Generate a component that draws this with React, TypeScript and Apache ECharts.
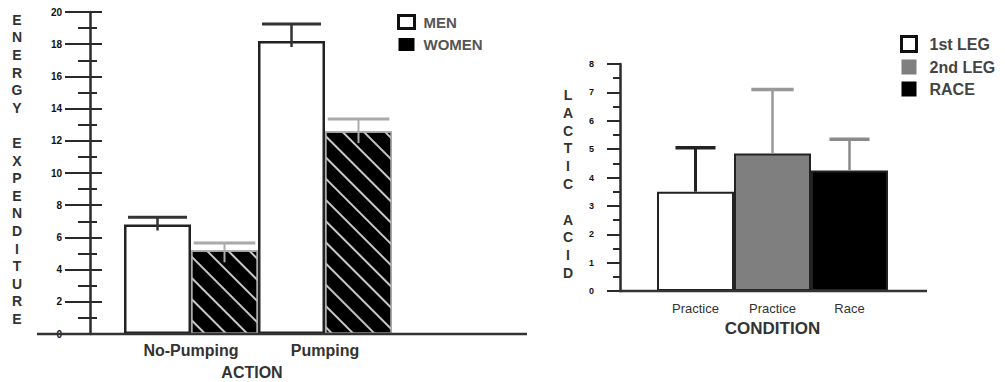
import React, { useEffect, useRef } from "react";
import * as echarts from "echarts";

// ---- Left chart data ----
const actionCategories = ["No-Pumping", "Pumping"];
const menValues = [6.8, 18.2];
const menErrors = [0.45, 1.05];
const womenValues = [5.2, 12.6];
const womenErrors = [0.45, 0.75];
const energyTicks = { min: 0, max: 20, interval: 2 };

// ---- Right chart data ----
const conditionCategories = ["Practice", "Practice", "Race"];
const firstLegValues = [3.5, null, null];
const firstLegErrors = [1.55, null, null];
const secondLegValues = [null, 4.85, null];
const secondLegErrors = [null, 2.25, null];
const raceValues = [null, null, 4.25];
const raceErrors = [null, null, 1.1];
const lacticTicks = { min: 0, max: 8, interval: 1 };

const FONT = "Liberation Sans, Arial, sans-serif";

function errData(values: (number | null)[], errors: (number | null)[]) {
  const out: any[] = [];
  values.forEach((v, i) => {
    if (v != null && errors[i] != null) out.push([i, v, errors[i]]);
  });
  return out;
}

function makeErrRender(offsetFrac: number, capFrac: number, stroke: string, stemW: number, capW: number, ext: number) {
  return (params: any, api: any) => {
    const c = api.value(0);
    const v = api.value(1);
    const e = api.value(2);
    const bw = api.size([1, 0])[0];
    const x = api.coord([c, v])[0] + offsetFrac * bw;
    const yBar = api.coord([c, v])[1];
    const yTop = api.coord([c, v + e])[1];
    const half = (capFrac * bw) / 2;
    return {
      type: "group",
      children: [
        { type: "line", shape: { x1: x, y1: yBar + ext, x2: x, y2: yTop }, style: { stroke, lineWidth: stemW } },
        { type: "line", shape: { x1: x - half, y1: yTop, x2: x + half, y2: yTop }, style: { stroke, lineWidth: capW } },
      ],
    };
  };
}

function toSeriesData(arr: (number | null)[]) {
  return arr.map((v) => (v == null ? "-" : v));
}

export default function App() {
  const ref = useRef<HTMLDivElement>(null);
  useEffect(() => {
    if (!ref.current) return;
    const chart = echarts.init(ref.current, null, { renderer: "svg" });
    const axisColor = "#2a2a2a";
    const invisibleDecal = { color: "rgba(0,0,0,0)", symbol: "rect", dashArrayX: [1, 0], dashArrayY: [2, 13] };
    const option: any = {
      animation: false,
      backgroundColor: "#fff",
      textStyle: { fontFamily: FONT },
      grid: [
        { left: 124, width: 268, top: 12, height: 322 },
        { left: 657, width: 231, top: 64, height: 227 },
      ],
      xAxis: [
        {
          type: "category",
          gridIndex: 0,
          data: actionCategories,
          axisLine: { show: false },
          axisTick: { show: false },
          axisLabel: { margin: 8, fontSize: 16, fontWeight: "bold", color: "#333", fontFamily: FONT },
        },
        {
          type: "category",
          gridIndex: 1,
          data: conditionCategories,
          axisLine: { show: false },
          axisTick: { show: false },
          axisLabel: { margin: 11, fontSize: 13, color: "#333", fontFamily: FONT },
          name: "CONDITION",
          nameLocation: "middle",
          nameGap: 29,
          nameTextStyle: { fontSize: 17, fontWeight: "bold", color: "#333", fontFamily: FONT },
        },
      ],
      yAxis: [
        {
          type: "value",
          gridIndex: 0,
          position: "left",
          offset: 34,
          min: energyTicks.min,
          max: energyTicks.max,
          interval: energyTicks.interval,
          splitLine: { show: false },
          axisLine: { show: true, lineStyle: { color: axisColor, width: 2.5 } },
          axisTick: { show: true, length: 25, lineStyle: { color: axisColor, width: 2 } },
          minorTick: { show: true, splitNumber: 2, length: 12, lineStyle: { color: axisColor, width: 2 } },
          axisLabel: { margin: 28, fontSize: 10, fontWeight: "bold", color: "#111", fontFamily: FONT },
        },
        {
          type: "value",
          gridIndex: 0,
          position: "left",
          offset: 34,
          min: energyTicks.min,
          max: energyTicks.max,
          interval: energyTicks.interval,
          splitLine: { show: false },
          axisLine: { show: false },
          axisTick: { show: true, inside: true, length: 12, lineStyle: { color: axisColor, width: 2 } },
          minorTick: { show: true, splitNumber: 2, length: 7, lineStyle: { color: axisColor, width: 2 } },
          axisLabel: { show: false },
        },
        {
          type: "value",
          gridIndex: 1,
          position: "left",
          offset: 37,
          min: lacticTicks.min,
          max: lacticTicks.max,
          interval: lacticTicks.interval,
          splitLine: { show: false },
          axisLine: { show: true, lineStyle: { color: axisColor, width: 2.5 } },
          axisTick: { show: true, length: 13, lineStyle: { color: axisColor, width: 2 } },
          minorTick: { show: true, splitNumber: 2, length: 7, lineStyle: { color: axisColor, width: 2 } },
          axisLabel: { margin: 26, fontSize: 9, fontWeight: "bold", color: "#111", fontFamily: FONT },
        },
      ],
      legend: [
        {
          left: 392,
          top: 9,
          orient: "vertical",
          itemWidth: 16,
          itemHeight: 13,
          itemGap: 7,
          icon: "rect",
          textStyle: { fontSize: 15, fontWeight: "bold", color: "#555", fontFamily: FONT, padding: [0, 0, 0, 4] },
          itemStyle: { decal: invisibleDecal },
          data: [
            { name: "MEN", itemStyle: { borderWidth: 3, borderColor: "#111", color: "#fff", decal: invisibleDecal } },
            { name: "WOMEN", itemStyle: { borderWidth: 0, color: "#000", decal: invisibleDecal } },
          ],
        },
        {
          left: 895,
          top: 30,
          orient: "vertical",
          itemWidth: 15,
          itemHeight: 15,
          itemGap: 6,
          icon: "rect",
          textStyle: { fontSize: 16, fontWeight: "bold", color: "#444", fontFamily: FONT, padding: [0, 0, 0, 8] },
          data: [
            { name: "1st LEG", itemStyle: { borderWidth: 3, borderColor: "#111", color: "#fff" } },
            { name: "2nd LEG", itemStyle: { borderWidth: 0 } },
            { name: "RACE", itemStyle: { borderWidth: 0 } },
          ],
        },
      ],
      series: [
        {
          name: "MEN",
          type: "bar",
          xAxisIndex: 0,
          yAxisIndex: 0,
          data: menValues,
          barGap: "0%",
          barCategoryGap: "0%",
          itemStyle: { color: "#fff", borderColor: "#222", borderWidth: 2.5 },
        },
        {
          name: "WOMEN",
          type: "bar",
          xAxisIndex: 0,
          yAxisIndex: 0,
          data: womenValues,
          barGap: "0%",
          barCategoryGap: "0%",
          itemStyle: {
            color: "#000",
            borderColor: "#aaa",
            borderWidth: 1.5,
            decal: {
              symbol: "rect",
              color: "rgba(210,210,210,0.95)",
              dashArrayX: [1, 0],
              dashArrayY: [2, 13],
              rotation: Math.PI / 4,
            },
          },
        },
        {
          type: "custom",
          xAxisIndex: 0,
          yAxisIndex: 0,
          data: errData(menValues, menErrors),
          encode: { x: 0, y: 1 },
          renderItem: makeErrRender(-0.25, 0.44, "#333", 2.5, 3, 6),
          z: 5,
        },
        {
          type: "custom",
          xAxisIndex: 0,
          yAxisIndex: 0,
          data: errData(womenValues, womenErrors),
          encode: { x: 0, y: 1 },
          renderItem: makeErrRender(0.25, 0.46, "#aaa", 2, 3, 12),
          z: 5,
        },
        {
          name: "1st LEG",
          type: "bar",
          xAxisIndex: 1,
          yAxisIndex: 2,
          stack: "cond",
          data: toSeriesData(firstLegValues),
          barCategoryGap: "0%",
          itemStyle: { color: "#fff", borderColor: "#222", borderWidth: 2 },
        },
        {
          name: "2nd LEG",
          type: "bar",
          xAxisIndex: 1,
          yAxisIndex: 2,
          stack: "cond",
          data: toSeriesData(secondLegValues),
          barCategoryGap: "0%",
          itemStyle: { color: "#7f7f7f", borderColor: "#222", borderWidth: 2 },
        },
        {
          name: "RACE",
          type: "bar",
          xAxisIndex: 1,
          yAxisIndex: 2,
          stack: "cond",
          data: toSeriesData(raceValues),
          barCategoryGap: "0%",
          itemStyle: { color: "#000", borderColor: "#222", borderWidth: 2 },
        },
        {
          type: "custom",
          xAxisIndex: 1,
          yAxisIndex: 2,
          data: errData(firstLegValues, firstLegErrors),
          encode: { x: 0, y: 1 },
          renderItem: makeErrRender(0, 0.52, "#222", 3, 3.5, 0),
          z: 5,
        },
        {
          type: "custom",
          xAxisIndex: 1,
          yAxisIndex: 2,
          data: errData(secondLegValues, secondLegErrors),
          encode: { x: 0, y: 1 },
          renderItem: makeErrRender(0, 0.55, "#999", 2.5, 3.5, 0),
          z: 5,
        },
        {
          type: "custom",
          xAxisIndex: 1,
          yAxisIndex: 2,
          data: errData(raceValues, raceErrors),
          encode: { x: 0, y: 1 },
          renderItem: makeErrRender(0, 0.52, "#8a8a8a", 2.5, 3.5, 0),
          z: 5,
        },
      ],
      graphic: [
        { type: "line", shape: { x1: 37, y1: 334, x2: 527, y2: 334 }, style: { stroke: "#333", lineWidth: 2.5 }, z: 10 },
        { type: "line", shape: { x1: 619, y1: 291, x2: 927, y2: 291 }, style: { stroke: "#333", lineWidth: 2.5 }, z: 10 },
        {
          type: "text",
          x: 17,
          y: 11,
          style: {
            text: "E\nN\nE\nR\nG\nY\n\nE\nX\nP\nE\nN\nD\nI\nT\nU\nR\nE",
            fontSize: 14,
            fontWeight: "bold",
            fontFamily: FONT,
            lineHeight: 17.6,
            align: "center",
            fill: "#333",
          },
        },
        {
          type: "text",
          x: 568,
          y: 86,
          style: {
            text: "L\nA\nC\nT\nI\nC\n\nA\nC\nI\nD",
            fontSize: 14,
            fontWeight: "bold",
            fontFamily: FONT,
            lineHeight: 17.8,
            align: "center",
            fill: "#333",
          },
        },
        {
          type: "text",
          x: 252,
          y: 372,
          style: {
            text: "ACTION",
            fontSize: 16,
            fontWeight: "bold",
            fontFamily: FONT,
            align: "center",
            verticalAlign: "middle",
            fill: "#333",
          },
        },
      ],
    };
    chart.setOption(option);
    return () => chart.dispose();
  }, []);
  return (
    <div
      ref={ref}
      style={{ position: "fixed", left: 0, top: 0, width: 1005, height: 382, background: "#fff" }}
    />
  );
}
